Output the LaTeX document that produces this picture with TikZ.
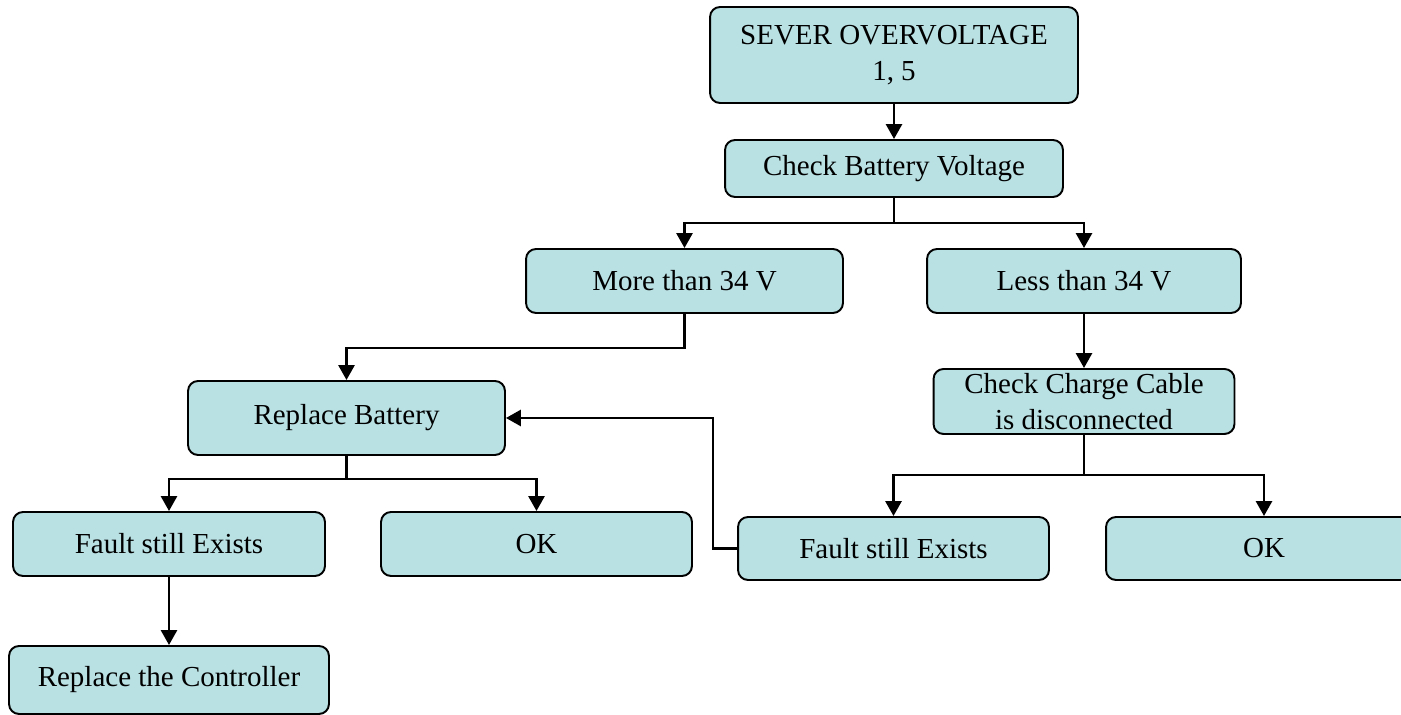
\documentclass[tikz,border=0pt]{standalone}
\usepackage{fontspec}
\setmainfont{Liberation Serif}
\usepackage{xcolor}
\usepackage{tikz}
\usetikzlibrary{arrows.meta,positioning}
\definecolor{boxfill}{HTML}{B9E0E3}

\begin{document}
\begin{tikzpicture}[x=.02cm,y=-.02cm,>={Triangle[length=.3cm,width=.32cm]},line width=1.6pt,
  box/.style={draw,rounded corners=.2cm,fill=boxfill,line width=1.1pt,align=center,inner sep=0pt,font=\fontsize{16.5}{20.5}\selectfont}]
\clip (0,0) rectangle (1401,715);
\node[box,minimum width=7.36cm,minimum height=1.92cm] (top) at (894,55) {SEVER OVERVOLTAGE\\1, 5};
\node[box,minimum width=6.76cm,minimum height=1.14cm] (check) at (894,168.5) {Check Battery Voltage};
\node[box,minimum width=6.34cm,minimum height=1.28cm] (more) at (684.5,281) {More than 34 V};
\node[box,minimum width=6.28cm,minimum height=1.28cm] (less) at (1084,281) {Less than 34 V};
\node[box,minimum width=6.34cm,minimum height=1.48cm] (rb) at (346.5,418) {Replace Battery};
\node[box,minimum width=6.02cm,minimum height=1.3cm] (ccc) at (1084,401.5) {Check Charge Cable\\is disconnected};
\node[box,minimum width=6.24cm,minimum height=1.28cm] (f1) at (169,544) {Fault still Exists};
\node[box,minimum width=6.22cm,minimum height=1.28cm] (ok1) at (536.5,544) {OK};
\node[box,minimum width=6.22cm,minimum height=1.26cm] (f2) at (893.5,548.5) {Fault still Exists};
\node[box,minimum width=6.32cm,minimum height=1.26cm] (ok2) at (1264,548.5) {OK};
\node[box,minimum width=6.4cm,minimum height=1.36cm] (ctrl) at (169,680) {Replace the Controller};
\draw[->] (top) -- (check);
\draw[->] (check.south) -- ++(0,25) -| (more);
\draw[->] (check.south) -- ++(0,25) -| (less);
\draw[->] (more.south) -- ++(0,34) -| (rb);
\draw[->] (less) -- (ccc);
\draw[->] (rb.south) -- ++(0,23) -| (f1);
\draw[->] (rb.south) -- ++(0,23) -| (ok1);
\draw[->] (f1) -- (ctrl);
\draw[->] (ccc.south) -- ++(0,40) -| (f2);
\draw[->] (ccc.south) -- ++(0,40) -| (ok2);
\draw[->] (f2.west) -- ++(-24,0) |- (rb);
\end{tikzpicture}
\end{document}
